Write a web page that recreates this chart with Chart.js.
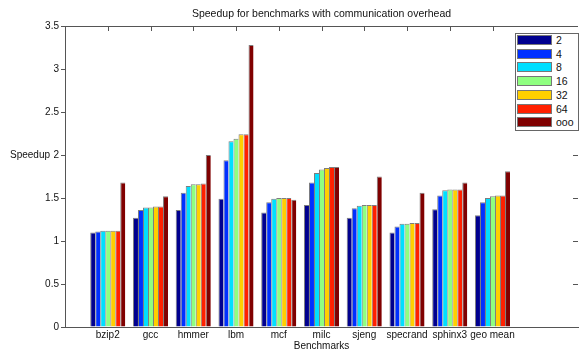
<!DOCTYPE html>
<html>
<head>
<meta charset="utf-8">
<script src="https://cdn.jsdelivr.net/npm/chart.js@4.4.1/dist/chart.umd.min.js"></script>
<style>
  body { margin: 0; background: #fff; }
  #wrap { position: relative; width: 580px; height: 352px; overflow: hidden; }
  #legend { position: absolute; left: 515px; top: 33px; width: 62px; height: 96px; border: 1px solid #666; background: #fff;
            font: 10.5px "Liberation Sans", Arial, sans-serif; color: #111; }
  .sw { position: absolute; left: 1px; width: 33px; height: 8px; border: 1px solid #777; }
  .lbl { position: absolute; left: 40px; line-height: 12px; }
</style>
</head>
<body>
<div id="wrap">
  <canvas id="speedupChart" width="580" height="352"></canvas>
  <div id="legend"></div>
</div>
<script>
const benchmarks = ['bzip2', 'gcc', 'hmmer', 'lbm', 'mcf', 'milc', 'sjeng', 'specrand', 'sphinx3', 'geo mean'];
const seriesNames = ['2', '4', '8', '16', '32', '64', 'ooo'];

const speedup2   = [1.10, 1.27, 1.36, 1.49, 1.33, 1.42, 1.27, 1.10, 1.37, 1.30];
const speedup4   = [1.11, 1.36, 1.56, 1.94, 1.45, 1.68, 1.38, 1.17, 1.53, 1.45];
const speedup8   = [1.12, 1.39, 1.64, 2.16, 1.49, 1.79, 1.41, 1.20, 1.59, 1.50];
const speedup16  = [1.12, 1.39, 1.66, 2.19, 1.50, 1.83, 1.42, 1.20, 1.60, 1.52];
const speedup32  = [1.12, 1.40, 1.66, 2.24, 1.50, 1.85, 1.42, 1.21, 1.60, 1.53];
const speedup64  = [1.12, 1.40, 1.67, 2.24, 1.50, 1.86, 1.42, 1.21, 1.60, 1.53];
const speedupOoo = [1.68, 1.52, 2.00, 3.28, 1.48, 1.86, 1.75, 1.56, 1.68, 1.81];

const yMin = 0;
const yMax = 3.5;
const yStep = 0.5;

const allSeries = [speedup2, speedup4, speedup8, speedup16, speedup32, speedup64, speedupOoo];
// jet colormap, as matlab picks it for 7 bars
const colors = ['#00008f', '#0030ff', '#00dfff', '#8fff80', '#ffcf00', '#ff2000', '#800000'];

const font = '"Liberation Sans", Arial, sans-serif';

// one empty slot left of bzip2 and two right of geo mean, like the matlab axis
const labels = ['', ...benchmarks, '', ''];
const pad = values => [null, ...values, null, null];

const datasets = allSeries.map((values, i) => ({
  label: seriesNames[i],
  data: pad(values),
  backgroundColor: colors[i],
  borderColor: 'rgba(40, 40, 40, 0.6)',
  borderWidth: { left: 1, top: 1, right: 0, bottom: 0 },
  borderSkipped: false,
  categoryPercentage: 0.82,
  barPercentage: 1.0,
}));

const frame = {
  id: 'frame',
  afterDraw(chart) {
    const { ctx, chartArea: area, scales: { x, y } } = chart;
    ctx.save();
    ctx.strokeStyle = '#555';
    ctx.lineWidth = 1;
    ctx.beginPath();
    ctx.moveTo(area.left, area.top + 0.5);
    ctx.lineTo(area.right, area.top + 0.5);
    benchmarks.forEach((name, i) => {
      const px = Math.round(x.getPixelForValue(i + 1)) + 0.5;
      ctx.moveTo(px, area.top);
      ctx.lineTo(px, area.top + 5);
    });
    y.ticks.forEach(tick => {
      const py = Math.round(y.getPixelForValue(tick.value)) + 0.5;
      ctx.moveTo(area.right, py);
      ctx.lineTo(area.right - 5, py);
    });
    ctx.stroke();

    ctx.fillStyle = '#111';
    ctx.font = '10.5px ' + font;
    ctx.textAlign = 'center';
    ctx.textBaseline = 'middle';
    ctx.fillText('Speedup for benchmarks with communication overhead', (area.left + area.right) / 2, 14);

    ctx.font = '10px ' + font;
    ctx.textAlign = 'left';
    ctx.fillText('Speedup', 10, y.getPixelForValue(2));
    ctx.restore();
  },
};

new Chart(document.getElementById('speedupChart'), {
  type: 'bar',
  data: { labels, datasets },
  options: {
    responsive: false,
    animation: false,
    layout: { padding: { top: 26, left: 0, right: -3, bottom: 0 } },
    plugins: {
      legend: { display: false },
      tooltip: { enabled: false },
    },
    scales: {
      x: {
        offset: false,
        grid: { display: false, drawTicks: false },
        border: { color: '#555', width: 1 },
        ticks: { autoSkip: false, maxRotation: 0, padding: 2, color: '#111', font: { family: font, size: 10 } },
        title: { display: true, text: 'Benchmarks', color: '#111', padding: { top: 0, bottom: 0 }, font: { family: font, size: 10 } },
        afterFit(scale) { scale.height = 25; },
      },
      y: {
        min: yMin,
        max: yMax,
        grid: { drawOnChartArea: false, drawTicks: true, tickLength: 4, color: '#555' },
        border: { color: '#555', width: 1 },
        ticks: {
          stepSize: yStep,
          padding: 2,
          color: '#111',
          font: { family: font, size: 10 },
          callback: value => String(Number(value.toFixed(1))),
        },
        afterFit(scale) { scale.width = 65; },
      },
    },
  },
  plugins: [frame],
});

const legendEl = document.getElementById('legend');
seriesNames.forEach((name, i) => {
  const top = 1 + i * 13.7;
  const sw = document.createElement('div');
  sw.className = 'sw';
  sw.style.top = top + 'px';
  sw.style.background = colors[i];
  const lbl = document.createElement('div');
  lbl.className = 'lbl';
  lbl.style.top = (top - 1) + 'px';
  lbl.textContent = name;
  legendEl.appendChild(sw);
  legendEl.appendChild(lbl);
});
</script>
</body>
</html>
